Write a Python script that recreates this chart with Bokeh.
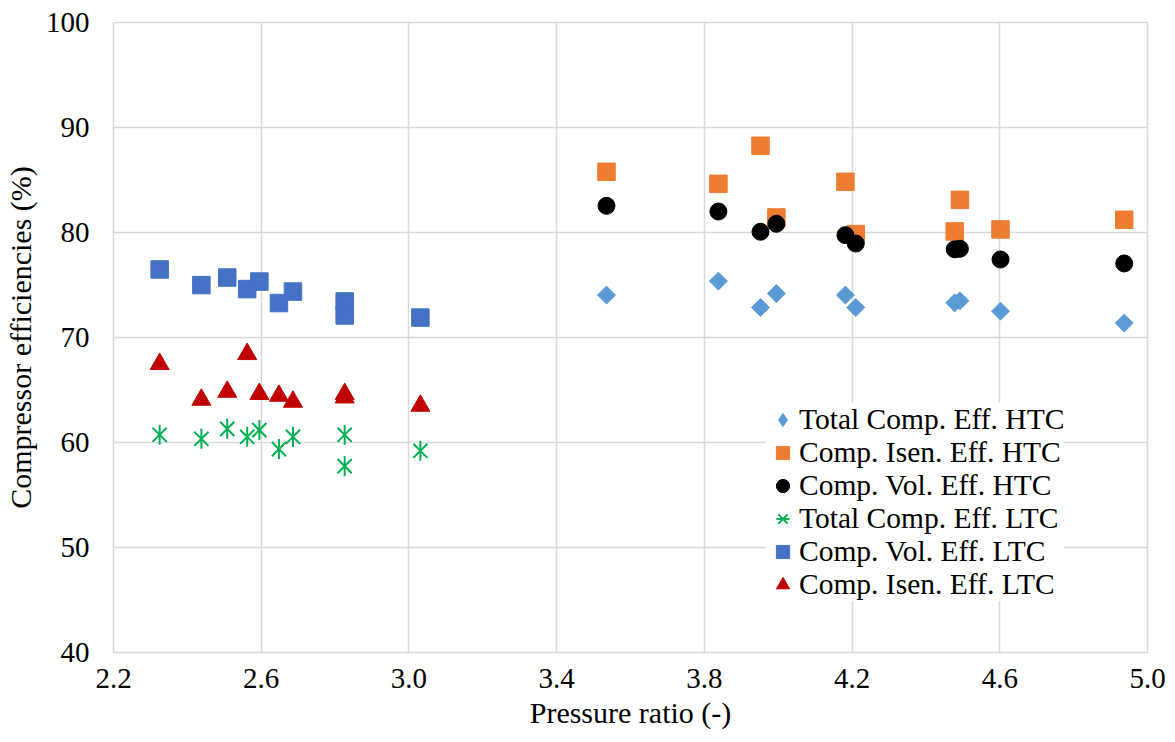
import math
from bokeh.plotting import figure
from bokeh.models import Range1d, FixedTicker, PrintfTickFormatter, Legend, LegendItem
from bokeh.embed import file_html
from bokeh.resources import INLINE

# ---------------- data ----------------
x_ticks = [2.2, 2.6, 3.0, 3.4, 3.8, 4.2, 4.6, 5.0]
y_ticks = [40, 50, 60, 70, 80, 90, 100]

# HTC (high temperature cycle)
x_htc = [3.535, 3.838, 3.952, 3.995, 4.182, 4.210, 4.478, 4.492, 4.602, 4.937]
total_eff_htc = [74.04, 75.37, 72.86, 74.19, 74.04, 72.86, 73.30, 73.50, 72.51, 71.37]
isen_eff_htc = [85.78, 84.64, 88.26, 81.43, 84.83, 79.85, 80.10, 83.11, 80.29, 81.21]
vol_eff_htc = [82.54, 82.00, 80.07, 80.83, 79.75, 78.95, 78.40, 78.45, 77.43, 77.05]

# LTC (low temperature cycle)
x_ltc = [2.325, 2.438, 2.508, 2.562, 2.595, 2.648, 2.686, 2.826, 2.826, 3.031]
total_eff_ltc = [60.73, 60.35, 61.30, 60.54, 61.18, 59.37, 60.54, 60.73, 57.75, 59.21]
vol_eff_ltc = [76.48, 74.99, 75.71, 74.61, 75.33, 73.28, 74.38, 73.43, 72.10, 71.90]
isen_eff_ltc = [67.47, 64.07, 64.83, 68.42, 64.62, 64.45, 63.88, 64.61, 64.29, 63.50]

labels = ["Total Comp. Eff. HTC", "Comp. Isen. Eff. HTC", "Comp. Vol. Eff. HTC",
          "Total Comp. Eff. LTC", "Comp. Vol. Eff. LTC", "Comp. Isen. Eff. LTC"]

FONT = "Liberation Serif"
GRID = "#D9D9D9"

p = figure(frame_width=1034, frame_height=630,
           min_border_left=107, min_border_right=22, min_border_top=22, min_border_bottom=82,
           x_range=Range1d(2.2, 5.0), y_range=Range1d(40, 100),
           output_backend="svg", toolbar_location=None,
           background_fill_color="white", border_fill_color="white")

p.outline_line_color = GRID
p.outline_line_width = 1.5

p.xaxis.ticker = FixedTicker(ticks=x_ticks)
p.yaxis.ticker = FixedTicker(ticks=y_ticks)
p.xaxis.formatter = PrintfTickFormatter(format="%.1f")
p.yaxis.formatter = PrintfTickFormatter(format="%d")

for ax in (p.xaxis[0], p.yaxis[0]):
    ax.axis_line_color = None
    ax.major_tick_line_color = None
    ax.minor_tick_line_color = None
    ax.major_tick_out = 0
    ax.major_tick_in = 0
    ax.major_label_text_font = FONT
    ax.major_label_text_font_size = "29px"
    ax.major_label_text_color = "black"
    ax.axis_label_text_font = FONT
    ax.axis_label_text_font_size = "30px"
    ax.axis_label_text_font_style = "normal"
    ax.axis_label_text_color = "black"

p.xaxis.axis_label = "Pressure ratio (-)"
p.yaxis.axis_label = "Compressor efficiencies (%)"
p.xaxis.major_label_standoff = 16
p.yaxis.major_label_standoff = 24
p.xaxis.axis_label_standoff = 5
p.yaxis.axis_label_standoff = 6

for g in (p.xgrid[0], p.ygrid[0]):
    g.grid_line_color = GRID
    g.grid_line_width = 1.5

r1 = p.scatter(x_htc, total_eff_htc, marker="square", angle=math.pi / 4, size=12.7,
               fill_color="#5B9BD5", line_color="#5B9BD5")
# legend stand-in for the diamond (not drawn in the plot area)
r1_leg = p.scatter(x_htc, total_eff_htc, marker="diamond", size=18,
                   fill_color="#5B9BD5", line_color="#5B9BD5", visible=False)
r2 = p.scatter(x_htc, isen_eff_htc, marker="square", size=17.5,
               fill_color="#ED7D31", line_color="#ED7D31")
r3 = p.scatter(x_htc, vol_eff_htc, marker="circle", size=17,
               fill_color="black", line_color="black")
r4a = p.scatter(x_ltc, total_eff_ltc, marker="x", size=20,
                line_color="#00B050", line_width=2)
r4b = p.scatter(x_ltc, total_eff_ltc, marker="dash", angle=math.pi / 2, size=20,
                line_color="#00B050", line_width=2)
r5 = p.scatter(x_ltc, vol_eff_ltc, marker="square", size=17.5,
               fill_color="#4472C4", line_color="#4472C4")
r6 = p.scatter(x_ltc, isen_eff_ltc, marker="triangle", size=19,
               fill_color="#C00000", line_color="#C00000")

items = [
    LegendItem(label=labels[0], renderers=[r1_leg]),
    LegendItem(label=labels[1], renderers=[r2]),
    LegendItem(label=labels[2], renderers=[r3]),
    LegendItem(label=labels[3], renderers=[r4a, r4b]),
    LegendItem(label=labels[4], renderers=[r5]),
    LegendItem(label=labels[5], renderers=[r6]),
]
legend = Legend(items=items, location=(653, 51), padding=8, margin=0, spacing=0,
                glyph_width=33, glyph_height=33, label_height=33, label_standoff=0,
                label_text_font=FONT, label_text_font_size="29.5px", label_text_color="black",
                background_fill_color="white", background_fill_alpha=1.0,
                border_line_color=None)
p.add_layout(legend)

open("out.html", "w").write(file_html(p, INLINE))
